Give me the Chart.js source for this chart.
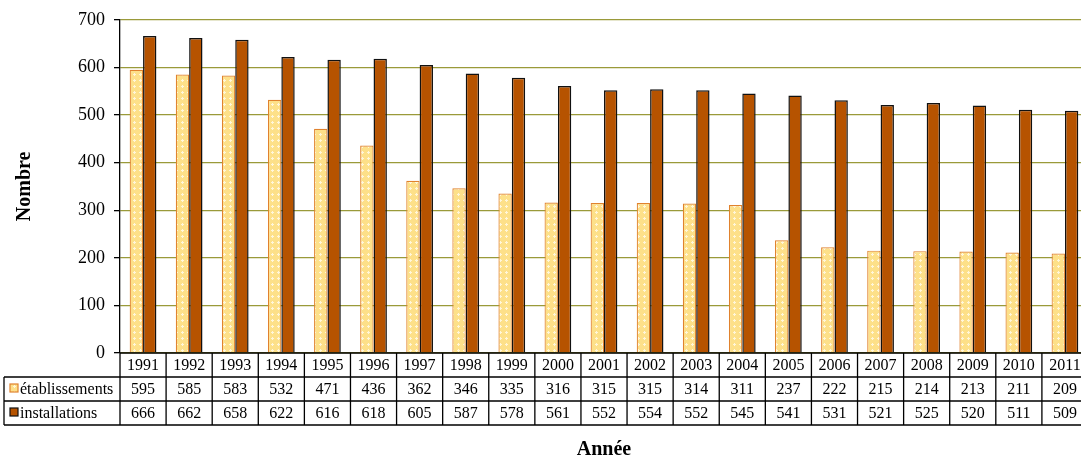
<!DOCTYPE html>
<html>
<head>
<meta charset="utf-8">
<script src="https://cdn.jsdelivr.net/npm/chart.js@4/dist/chart.umd.min.js"></script>
<style>
  html, body { margin: 0; padding: 0; background: #fff; overflow: hidden; }
  #wrap { position: relative; width: 1088px; height: 464px; }
</style>
</head>
<body>
<div id="wrap"><canvas id="chart"></canvas></div>
<script>
const years = ['1991','1992','1993','1994','1995','1996','1997','1998','1999','2000','2001',
               '2002','2003','2004','2005','2006','2007','2008','2009','2010','2011'];
const etablissements = [595,585,583,532,471,436,362,346,335,316,315,315,314,311,237,222,215,214,213,211,209];
const installations = [666,662,658,622,616,618,605,587,578,561,552,554,552,545,541,531,521,525,520,511,509];
const yTicks = [0,100,200,300,400,500,600,700];

const serif = "'Liberation Serif', 'Times New Roman', serif";

// pale yellow fill with small white crosses
function makePattern() {
  const p = document.createElement('canvas');
  p.width = 6; p.height = 6;
  const c = p.getContext('2d');
  c.fillStyle = '#FDE089';
  c.fillRect(0, 0, 6, 6);
  c.fillStyle = '#FFF6DA';
  c.fillRect(2, 1, 1, 3);
  c.fillRect(1, 2, 3, 1);
  return c.createPattern(p, 'repeat');
}

const dataTable = {
  id: 'dataTable',
  afterDraw(chart) {
    const ctx = chart.ctx;
    const x = chart.scales.x;
    const area = chart.chartArea;
    const top = area.bottom;
    const rowH = 24;
    const legendLeft = 4;
    const cellW = x.getPixelForValue(1) - x.getPixelForValue(0);
    const right = x.getPixelForValue(years.length - 1) + cellW / 2;

    ctx.save();
    ctx.strokeStyle = '#000';
    ctx.lineWidth = 1.3;
    ctx.beginPath();
    ctx.moveTo(area.left, top); ctx.lineTo(right, top);
    for (let r = 1; r <= 3; r++) {
      ctx.moveTo(legendLeft, top + r * rowH); ctx.lineTo(right, top + r * rowH);
    }
    ctx.moveTo(legendLeft, top + rowH); ctx.lineTo(legendLeft, top + 3 * rowH);
    for (let i = 0; i <= years.length; i++) {
      const px = x.getPixelForValue(0) - cellW / 2 + i * cellW;
      ctx.moveTo(px, top); ctx.lineTo(px, top + 3 * rowH);
    }
    ctx.stroke();

    ctx.fillStyle = '#000';
    ctx.font = '16px ' + serif;
    ctx.textAlign = 'center';
    ctx.textBaseline = 'middle';
    years.forEach((yr, i) => {
      const px = x.getPixelForValue(i);
      ctx.fillText(yr, px, top + rowH * 0.5 + 1);
      ctx.fillText(String(etablissements[i]), px, top + rowH * 1.5 + 1);
      ctx.fillText(String(installations[i]), px, top + rowH * 2.5 + 1);
    });

    // legend keys
    chart.data.datasets.forEach((d, k) => {
      const cy = top + rowH * (1.5 + k);
      ctx.fillStyle = d.backgroundColor;
      ctx.fillRect(10, cy - 5, 8, 8);
      ctx.strokeStyle = d.borderColor;
      ctx.lineWidth = 1.2;
      ctx.strokeRect(10, cy - 5, 8, 8);
      ctx.fillStyle = '#000';
      ctx.textAlign = 'left';
      ctx.font = '16px ' + serif;
      ctx.fillText(d.label, 20, cy + 1);
    });
    ctx.restore();
  }
};

new Chart(document.getElementById('chart'), {
  type: 'bar',
  data: {
    labels: years,
    datasets: [{
      label: 'établissements',
      data: etablissements,
      backgroundColor: makePattern(),
      borderColor: '#E0822E',
      borderWidth: 1.2
    }, {
      label: 'installations',
      data: installations,
      backgroundColor: '#B65300',
      borderColor: '#111',
      borderWidth: 1.5
    }]
  },
  options: {
    responsive: true,
    maintainAspectRatio: false,
    animation: false,
    layout: { padding: { top: 18, right: 0, left: 0, bottom: 0 } },
    datasets: { bar: { categoryPercentage: 0.58, barPercentage: 1.0 } },
    plugins: {
      legend: { display: false },
      tooltip: { enabled: false }
    },
    scales: {
      x: {
        grid: { display: false },
        border: { display: false },
        ticks: { display: false },
        title: {
          display: true,
          text: 'Année',
          font: { family: serif, size: 20, weight: 'bold' },
          color: '#000',
          padding: { top: 0, bottom: 2 }
        },
        afterFit(scale) { scale.height = 111; }
      },
      y: {
        min: 0,
        max: 700,
        afterBuildTicks(scale) { scale.ticks = yTicks.map(v => ({ value: v })); },
        grid: { color: '#9A9A3A', lineWidth: 1.3, tickColor: '#000', tickLength: 6 },
        border: { color: '#000', width: 1.3 },
        ticks: {
          color: '#000',
          font: { family: serif, size: 18 },
          padding: 9
        },
        title: {
          display: true,
          text: 'Nombre',
          font: { family: serif, size: 20, weight: 'bold' },
          color: '#000',
          padding: { top: 13, bottom: 0 }
        },
        afterFit(scale) { scale.width = 120; }
      }
    }
  },
  plugins: [dataTable]
});
</script>
</body>
</html>
